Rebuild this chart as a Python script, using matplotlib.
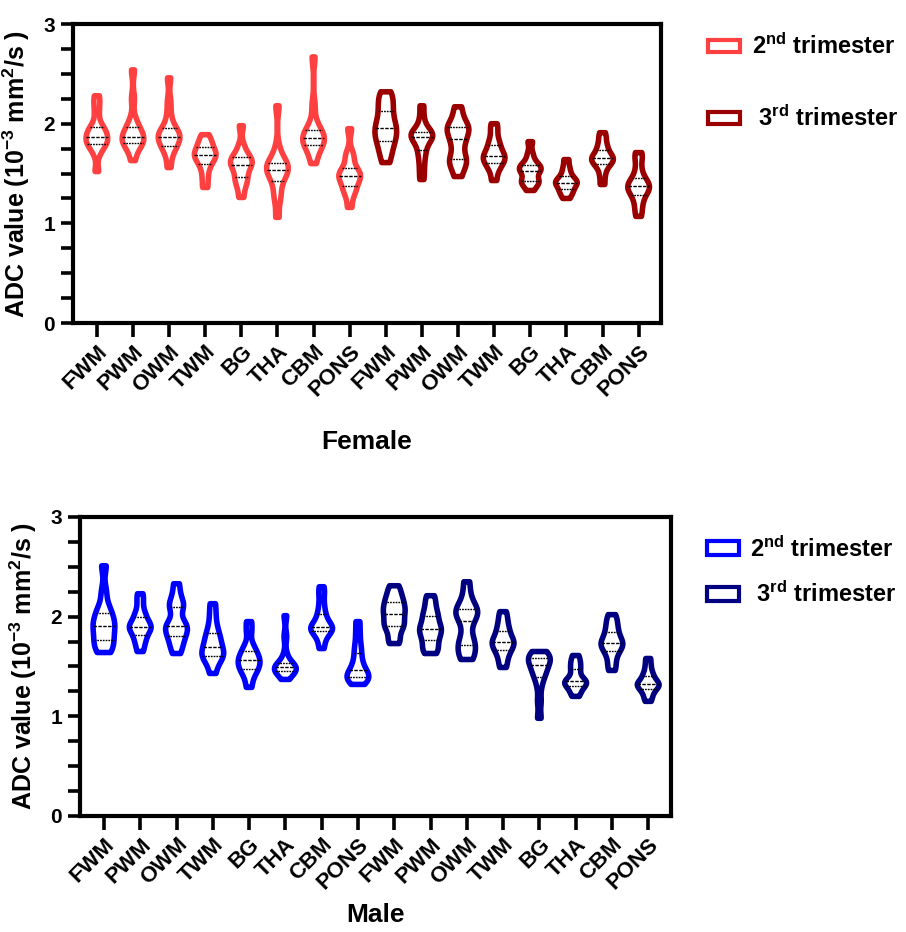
import matplotlib
matplotlib.use("Agg")
import matplotlib.pyplot as plt
from matplotlib import font_manager
from matplotlib.patches import Patch
from matplotlib.ticker import MultipleLocator
import pandas as pd
import seaborn as sns

# regions, repeated for 2nd and 3rd trimester
regions = ["FWM", "PWM", "OWM", "TWM", "BG", "THA", "CBM", "PONS"]

# ADC values (10^-3 mm2/s)
female_2nd = [
    [1.52, 1.70, 1.76, 1.79, 1.81, 1.83, 1.85, 1.87, 1.90, 1.93, 1.95, 1.98, 2.10, 2.20, 2.28],
    [1.63, 1.72, 1.78, 1.80, 1.81, 1.83, 1.85, 1.87, 1.89, 1.92, 1.95, 1.98, 2.05, 2.25, 2.54],
    [1.56, 1.68, 1.76, 1.77, 1.79, 1.85, 1.86, 1.87, 1.89, 1.91, 1.94, 1.98, 2.08, 2.22, 2.46],
    [1.36, 1.45, 1.53, 1.59, 1.62, 1.65, 1.68, 1.69, 1.71, 1.74, 1.77, 1.80, 1.84, 1.89],
    [1.26, 1.36, 1.42, 1.45, 1.50, 1.55, 1.58, 1.60, 1.62, 1.64, 1.67, 1.70, 1.78, 1.98],
    [1.06, 1.25, 1.30, 1.42, 1.46, 1.50, 1.53, 1.55, 1.57, 1.59, 1.61, 1.64, 1.75, 2.18],
    [1.60, 1.68, 1.75, 1.78, 1.81, 1.83, 1.85, 1.86, 1.88, 1.91, 1.95, 2.00, 2.18, 2.67],
    [1.16, 1.28, 1.33, 1.36, 1.41, 1.45, 1.47, 1.48, 1.50, 1.53, 1.57, 1.66, 1.70, 1.95],
]
female_3rd = [
    [1.61, 1.70, 1.76, 1.82, 1.86, 1.90, 1.94, 1.98, 2.02, 2.08, 2.14, 2.20, 2.26, 2.32],
    [1.44, 1.55, 1.65, 1.72, 1.78, 1.83, 1.86, 1.87, 1.89, 1.90, 1.92, 1.95, 2.05, 2.18],
    [1.47, 1.56, 1.60, 1.64, 1.68, 1.76, 1.83, 1.86, 1.92, 1.95, 1.97, 2.00, 2.08, 2.17],
    [1.43, 1.52, 1.57, 1.60, 1.63, 1.65, 1.67, 1.69, 1.72, 1.76, 1.80, 1.85, 1.93, 2.00],
    [1.33, 1.38, 1.41, 1.42, 1.44, 1.49, 1.52, 1.54, 1.55, 1.57, 1.59, 1.63, 1.70, 1.82],
    [1.25, 1.29, 1.32, 1.34, 1.37, 1.39, 1.40, 1.42, 1.43, 1.45, 1.48, 1.52, 1.57, 1.64],
    [1.39, 1.48, 1.55, 1.59, 1.61, 1.63, 1.65, 1.66, 1.68, 1.71, 1.75, 1.79, 1.85, 1.91],
    [1.07, 1.15, 1.22, 1.28, 1.31, 1.34, 1.36, 1.38, 1.40, 1.43, 1.47, 1.55, 1.65, 1.71],
]
male_2nd = [
    [1.64, 1.66, 1.72, 1.76, 1.79, 1.85, 1.89, 1.92, 1.95, 2.00, 2.05, 2.10, 2.25, 2.51],
    [1.65, 1.72, 1.77, 1.81, 1.85, 1.88, 1.89, 1.91, 1.93, 1.97, 2.01, 2.06, 2.15, 2.23],
    [1.63, 1.70, 1.75, 1.80, 1.84, 1.87, 1.90, 1.92, 1.96, 2.07, 2.11, 2.14, 2.22, 2.33],
    [1.43, 1.52, 1.57, 1.60, 1.62, 1.65, 1.68, 1.72, 1.76, 1.80, 1.85, 1.92, 2.02, 2.13],
    [1.29, 1.38, 1.44, 1.47, 1.49, 1.53, 1.55, 1.57, 1.60, 1.63, 1.67, 1.72, 1.85, 1.95],
    [1.37, 1.41, 1.44, 1.45, 1.46, 1.47, 1.48, 1.50, 1.51, 1.52, 1.54, 1.62, 1.80, 2.01],
    [1.68, 1.76, 1.82, 1.85, 1.87, 1.88, 1.89, 1.91, 1.94, 1.99, 2.04, 2.12, 2.22, 2.30],
    [1.32, 1.35, 1.37, 1.39, 1.40, 1.42, 1.44, 1.48, 1.52, 1.58, 1.65, 1.72, 1.83, 1.95],
]
male_3rd = [
    [1.73, 1.78, 1.86, 1.90, 1.93, 1.97, 2.01, 2.05, 2.08, 2.11, 2.16, 2.19, 2.25, 2.31],
    [1.63, 1.66, 1.71, 1.76, 1.80, 1.84, 1.87, 1.89, 1.93, 1.98, 2.02, 2.07, 2.14, 2.21],
    [1.57, 1.60, 1.67, 1.71, 1.75, 1.82, 1.93, 1.99, 2.03, 2.05, 2.08, 2.12, 2.22, 2.35],
    [1.49, 1.56, 1.62, 1.66, 1.69, 1.72, 1.74, 1.76, 1.79, 1.83, 1.87, 1.92, 1.98, 2.05],
    [0.98, 1.15, 1.30, 1.39, 1.42, 1.46, 1.50, 1.52, 1.55, 1.57, 1.59, 1.61, 1.63, 1.65],
    [1.20, 1.24, 1.28, 1.30, 1.32, 1.34, 1.35, 1.36, 1.39, 1.44, 1.48, 1.52, 1.56, 1.61],
    [1.46, 1.53, 1.60, 1.65, 1.68, 1.71, 1.73, 1.75, 1.78, 1.82, 1.86, 1.91, 1.96, 2.02],
    [1.15, 1.20, 1.24, 1.27, 1.29, 1.31, 1.32, 1.33, 1.35, 1.38, 1.41, 1.45, 1.51, 1.58],
]

legend_labels = ["2$^{nd}$ trimester", " 3$^{rd}$ trimester"]

names = {f.name for f in font_manager.fontManager.ttflist}
narrow = "Liberation Sans Narrow" if "Liberation Sans Narrow" in names else "Liberation Sans"

plt.rcParams.update({
    "font.family": ["Liberation Sans", "DejaVu Sans"],
    "font.weight": "bold",
    "mathtext.fontset": "custom",
    "mathtext.rm": "Liberation Sans:bold",
    "mathtext.it": "Liberation Sans:bold",
    "mathtext.bf": "Liberation Sans:bold",
})


def draw_panel(ax, second, third, c2, c3, xlabel, xpad):
    rows = []
    for i, vals in enumerate(second + third):
        trim = "2nd" if i < len(second) else "3rd"
        rows += [(i, trim, v) for v in vals]
    df = pd.DataFrame(rows, columns=["slot", "trim", "adc"])
    sns.violinplot(data=df, x="slot", y="adc", hue="trim",
                   palette={"2nd": c2, "3rd": c3}, dodge=False, fill=False,
                   inner="quart", inner_kws=dict(color="black", linewidth=1.0),
                   cut=0, density_norm="width", bw_adjust=0.55, width=0.6,
                   linewidth=4.0, legend=False, ax=ax)

    ax.set_xlim(-0.66, 15.62)
    ax.set_ylim(0, 3)
    ax.set_yticks([0, 1, 2, 3])
    ax.yaxis.set_minor_locator(MultipleLocator(0.25))
    ax.set_xticks(range(16))
    ax.set_xticklabels(regions * 2, rotation=45, ha="right",
                       rotation_mode="anchor", fontsize=16, fontweight="bold")
    for sp in ax.spines.values():
        sp.set_linewidth(3)
        sp.set_visible(True)
    ax.tick_params(axis="y", which="both", length=9, width=2.6, labelsize=15, pad=4)
    ax.tick_params(axis="x", length=10, width=2.6, pad=3)
    ax.set_ylabel("ADC value (10$^{-3}$ mm$^{2}$/s )", fontsize=18,
                  fontweight="bold", labelpad=8)
    ax.set_xlabel(xlabel, fontsize=19, fontweight="bold", family=narrow, labelpad=xpad)


fig = plt.figure(figsize=(9.06, 9.32), dpi=100)
ax1 = fig.add_axes([0.0806, 0.6534, 0.649, 0.3208])
ax2 = fig.add_axes([0.0883, 0.1245, 0.652, 0.3208])

draw_panel(ax1, female_2nd, female_3rd, "#FF4040", "#9B0000", "Female", 21)
draw_panel(ax2, male_2nd, male_3rd, "#0000FF", "#000080", "Male", 7)

h1 = [Patch(facecolor="white", edgecolor=c, linewidth=3) for c in ("#FF4040", "#9B0000")]
fig.legend(h1, legend_labels, loc="upper left", bbox_to_anchor=(0.782, 0.964),
           frameon=False, fontsize=17, handlelength=1.35, handleheight=0.4,
           handletextpad=0.5, labelspacing=1.95, borderpad=0, borderaxespad=0)
h2 = [Patch(facecolor="white", edgecolor=c, linewidth=3) for c in ("#0000FF", "#000080")]
fig.legend(h2, legend_labels, loc="upper left", bbox_to_anchor=(0.78, 0.425),
           frameon=False, fontsize=17, handlelength=1.35, handleheight=0.5,
           handletextpad=0.5, labelspacing=0.85, borderpad=0, borderaxespad=0)

fig.savefig("out.png", dpi=100)
